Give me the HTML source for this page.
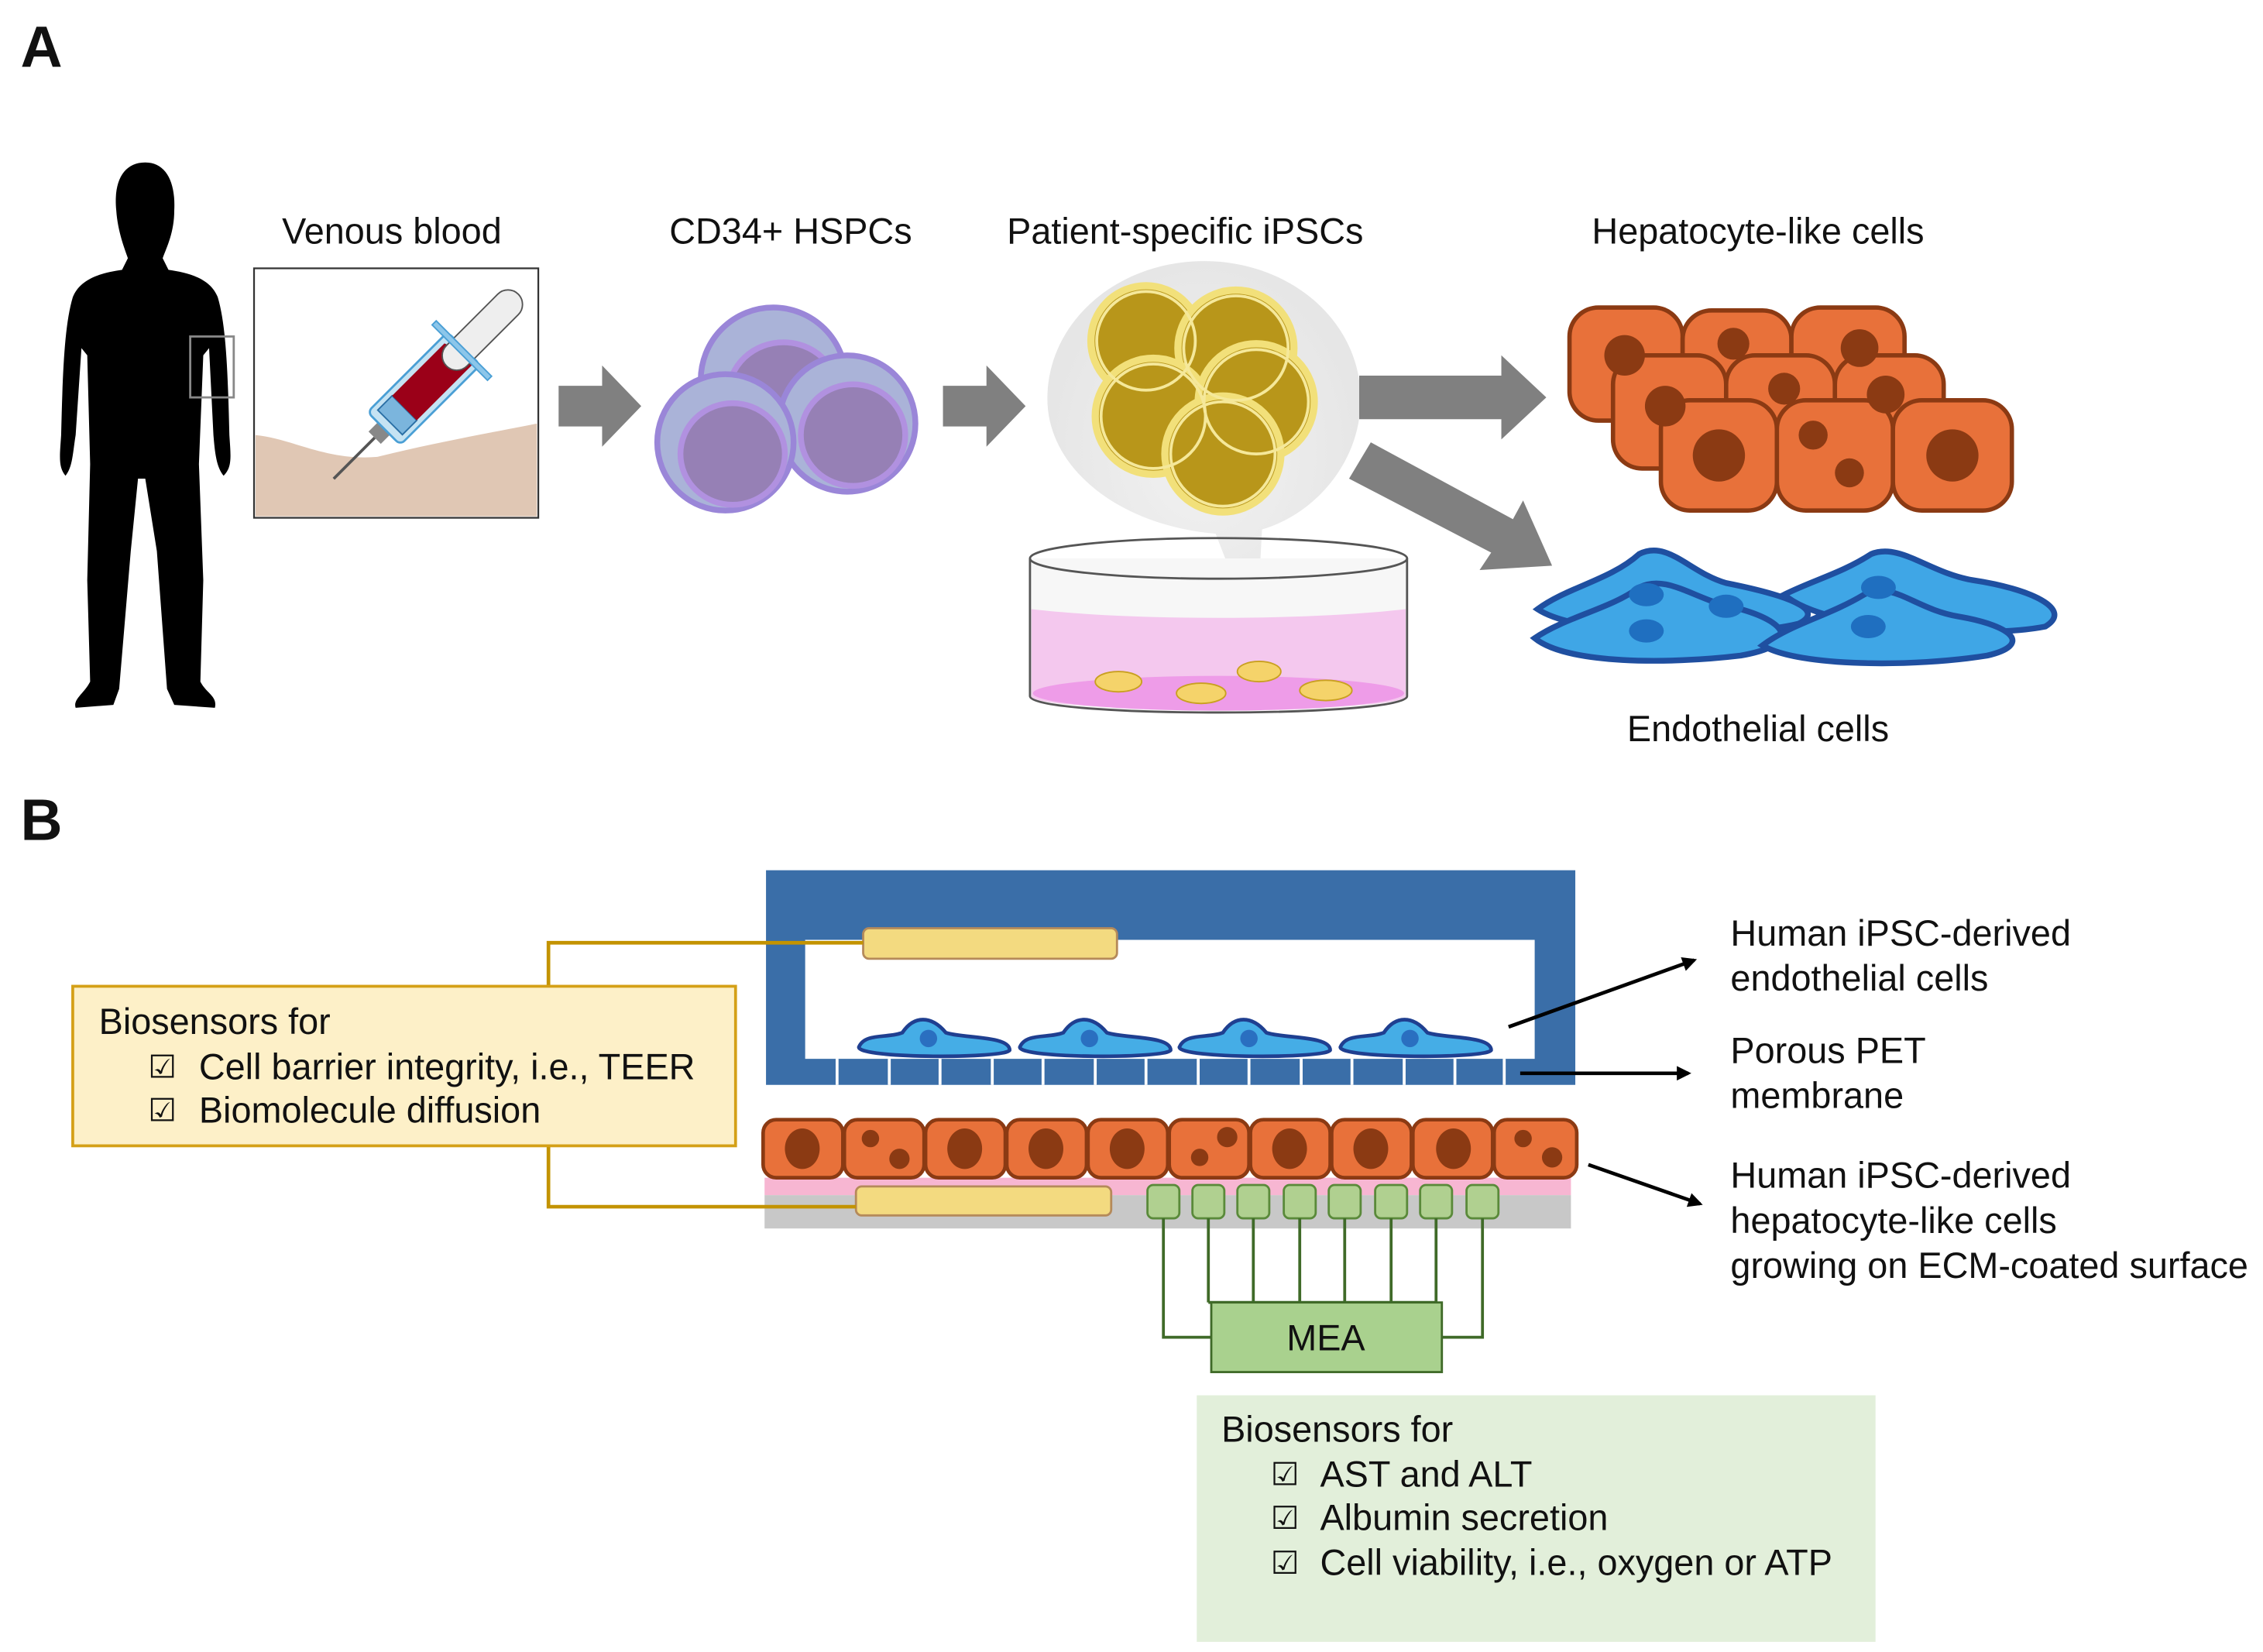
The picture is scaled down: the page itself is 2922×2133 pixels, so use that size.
<!DOCTYPE html>
<html><head><meta charset="utf-8"><style>
html,body{margin:0;padding:0;background:#fff;}
svg{display:block;}
text{font-family:"Liberation Sans",sans-serif;fill:#111;}
</style></head><body>
<svg width="2922" height="2133" viewBox="0 0 1560 1139" xmlns="http://www.w3.org/2000/svg">
<defs>
<marker id="ah" markerWidth="10" markerHeight="10" refX="8" refY="5" orient="auto" markerUnits="userSpaceOnUse"><path d="M0,0 L10,5 L0,10 z" fill="#000"/></marker>
<radialGradient id="bub" cx="50%" cy="50%" r="50%"><stop offset="0" stop-color="#f2f2f2"/><stop offset="1" stop-color="#e6e6e6"/></radialGradient>
</defs>
<text x="14" y="46" font-size="40" font-weight="bold">A</text>
<text x="14" y="579" font-size="40" font-weight="bold">B</text>

<path d="M100,112 C85,112 78,125 80,145 C81,160 86,172 88,178 L84,186 C70,188 55,192 50,205 C44,225 43,260 42,300 C41,315 40,322 45,328 C50,322 50,312 52,300 L56,240 L60,245 L62,320 L60,400 L62,470 C58,478 50,482 52,488 L78,486 L82,475 L90,380 L95,330 L100,330 L108,380 L115,475 L120,486 L148,488 C150,480 142,478 138,470 L140,400 L137,320 L140,245 L144,240 L147,300 C148,312 149,322 154,328 C160,322 159,315 158,300 C157,260 156,225 150,205 C145,192 130,188 116,186 L112,178 C115,170 120,160 120,145 C121,125 114,112 100,112 Z" fill="#000"/>
<rect x="131" y="232" width="30" height="42" fill="none" stroke="#888" stroke-width="1.5"/>

<rect x="175" y="185" width="196" height="172" fill="#fff" stroke="#333" stroke-width="1.2"/>
<path d="M176,300 C200,302 225,318 260,315 C300,305 340,298 370,292 L370,356 L176,356 Z" fill="#e0c7b4"/>
<g transform="translate(290,270) rotate(-45)">
<rect x="-85" y="-1" width="40" height="2" fill="#555"/>
<rect x="-45" y="-6" width="10" height="12" fill="#888"/>
<rect x="-36" y="-16" width="78" height="32" rx="4" fill="#c5e3f3" stroke="#4a9fd5" stroke-width="1.5"/>
<rect x="-30" y="-12" width="14" height="24" fill="#7bb5dd" stroke="#2a6fa5"/>
<path d="M-16,-12 L35,-12 L38,-4 L38,12 L-16,12 Z" fill="#9b0018"/>
<rect x="25" y="-10" width="70" height="20" rx="10" fill="#eee" stroke="#555"/>
<rect x="38" y="-27" width="4" height="54" fill="#8cc6ea" stroke="#4a9fd5"/>
</g>

<path d="M385,266 L415,266 L415,252 L442,280 L415,308 L415,294 L385,294 Z" fill="#808080"/>
<path d="M650,266 L680,266 L680,252 L707,280 L680,308 L680,294 L650,294 Z" fill="#808080"/>

<g stroke="#9a86d8" stroke-width="4">
<circle cx="533" cy="262" r="50" fill="#aab3d8"/>
<ellipse cx="540" cy="272" rx="38" ry="36" fill="#9680b5" stroke="#b191e0" stroke-width="4"/>
<circle cx="584" cy="292" r="47" fill="#aab3d8"/>
<ellipse cx="588" cy="300" rx="36" ry="35" fill="#9680b5" stroke="#b191e0" stroke-width="4"/>
<circle cx="500" cy="305" r="47" fill="#aab3d8"/>
<ellipse cx="505" cy="313" rx="36" ry="35" fill="#9680b5" stroke="#b191e0" stroke-width="4"/>
</g>

<path d="M830,180 C890,180 938,222 938,275 C938,320 905,355 870,365 L866,440 L838,368 C770,362 722,322 722,275 C722,222 770,180 830,180 Z" fill="url(#bub)"/>
<g stroke="#f2e07a" stroke-width="5" fill="#b8961a">
<circle cx="790" cy="235" r="38"/><circle cx="852" cy="240" r="40"/>
<circle cx="795" cy="287" r="40"/><circle cx="866" cy="277" r="40"/>
<circle cx="843" cy="313" r="40"/>
</g>
<g fill="none" stroke="#f5e89a" stroke-width="2"><circle cx="790" cy="235" r="34"/><circle cx="852" cy="240" r="36"/><circle cx="795" cy="287" r="36"/><circle cx="866" cy="277" r="36"/><circle cx="843" cy="313" r="36"/></g>
<path d="M710,385 L710,480 C710,495 970,495 970,480 L970,385" fill="#f7f7f7" stroke="#555" stroke-width="1.5"/>
<path d="M711,420 C780,428 900,428 969,420 L969,480 C969,492 711,492 711,480 Z" fill="#f4c8ee"/>
<ellipse cx="840" cy="478" rx="128" ry="12" fill="#ee9ce8"/>
<ellipse cx="840" cy="385" rx="130" ry="14" fill="none" stroke="#555" stroke-width="1.5"/>
<g fill="#f5d36a" stroke="#c9a020" stroke-width="1"><ellipse cx="771" cy="470" rx="16" ry="7"/><ellipse cx="828" cy="478" rx="17" ry="7"/><ellipse cx="868" cy="463" rx="15" ry="7"/><ellipse cx="914" cy="476" rx="18" ry="7"/></g>

<path d="M937,259 L1035,259 L1035,245 L1066,274 L1035,303 L1035,289 L937,289 Z" fill="#808080"/>
<path d="M945,305 L1043,358 L1050,345 L1070,390 L1020,393 L1028,381 L930,330 Z" fill="#808080"/>

<g stroke="#8b3a13" stroke-width="3" fill="#e8713a">
<rect x="1082" y="212" width="78" height="78" rx="20"/><rect x="1160" y="214" width="75" height="75" rx="20"/><rect x="1235" y="212" width="78" height="78" rx="20"/>
<rect x="1112" y="245" width="78" height="78" rx="20"/><rect x="1190" y="245" width="75" height="78" rx="20"/><rect x="1265" y="245" width="75" height="78" rx="20"/>
<rect x="1145" y="276" width="80" height="76" rx="20"/><rect x="1225" y="276" width="80" height="76" rx="20"/><rect x="1305" y="276" width="82" height="76" rx="20"/>
</g>
<g fill="#8b3a13"><circle cx="1120" cy="245" r="14"/><circle cx="1195" cy="237" r="11"/><circle cx="1282" cy="240" r="13"/><circle cx="1148" cy="280" r="14"/><circle cx="1230" cy="268" r="11"/><circle cx="1300" cy="272" r="13"/><circle cx="1185" cy="314" r="18"/><circle cx="1250" cy="300" r="10"/><circle cx="1275" cy="326" r="10"/><circle cx="1346" cy="314" r="18"/></g>

<g fill="#3fa6e6" stroke="#1f4fa0" stroke-width="4">
<path d="M1060,420 C1080,405 1110,400 1130,382 C1150,372 1165,395 1190,402 C1230,410 1260,420 1240,430 C1200,440 1090,440 1060,420 Z"/>
<path d="M1058,440 C1080,425 1110,420 1130,405 C1150,395 1170,415 1200,420 C1235,430 1240,445 1200,452 C1150,458 1080,458 1058,440 Z"/>
<path d="M1230,410 C1250,400 1270,395 1290,382 C1310,374 1330,395 1360,400 C1400,406 1430,420 1410,432 C1370,440 1260,436 1230,410 Z"/>
<path d="M1215,445 C1235,430 1260,425 1285,410 C1305,400 1320,420 1350,425 C1390,432 1400,445 1370,452 C1320,460 1240,460 1215,445 Z"/>
</g>
<g fill="#1f6fc0"><ellipse cx="1135" cy="410" rx="12" ry="8"/><ellipse cx="1190" cy="418" rx="12" ry="8"/><ellipse cx="1295" cy="405" rx="12" ry="8"/><ellipse cx="1135" cy="435" rx="12" ry="8"/><ellipse cx="1288" cy="432" rx="12" ry="8"/></g>

<g font-size="25" text-anchor="middle">
<text x="270" y="168">Venous blood</text>
<text x="545" y="168">CD34+ HSPCs</text>
<text x="817" y="168">Patient-specific iPSCs</text>
<text x="1212" y="168">Hepatocyte-like cells</text>
<text x="1212" y="511">Endothelial cells</text>
</g>

<path d="M528,600 L1086,600 L1086,748 L528,748 Z M555,648 L555,730 L1058,730 L1058,648 Z" fill="#3a6ea8" fill-rule="evenodd"/>
<g fill="#fff">
<rect x="576" y="730" width="2" height="18"/><rect x="612" y="730" width="2" height="18"/><rect x="647" y="730" width="2" height="18"/><rect x="683" y="730" width="2" height="18"/><rect x="718" y="730" width="2" height="18"/><rect x="754" y="730" width="2" height="18"/><rect x="789" y="730" width="2" height="18"/><rect x="825" y="730" width="2" height="18"/><rect x="860" y="730" width="2" height="18"/><rect x="896" y="730" width="2" height="18"/><rect x="931" y="730" width="2" height="18"/><rect x="967" y="730" width="2" height="18"/><rect x="1002" y="730" width="2" height="18"/><rect x="1036" y="730" width="2" height="18"/>
</g>
<g fill="#45ade6" stroke="#1f3f90" stroke-width="2.5">
<path d="M592,722 C596,712 612,716 622,712 C630,700 642,700 652,712 C664,716 696,714 696,724 C694,730 592,730 592,722 Z"/>
<path d="M703,722 C707,712 723,716 733,712 C741,700 753,700 763,712 C775,716 807,714 807,724 C805,730 703,730 703,722 Z"/>
<path d="M813,722 C817,712 833,716 843,712 C851,700 863,700 873,712 C885,716 917,714 917,724 C915,730 813,730 813,722 Z"/>
<path d="M924,722 C928,712 944,716 954,712 C962,700 974,700 984,712 C996,716 1028,714 1028,724 C1026,730 924,730 924,722 Z"/>
</g>
<g fill="#2a6fc0"><circle cx="640" cy="716" r="6"/><circle cx="751" cy="716" r="6"/><circle cx="861" cy="716" r="6"/><circle cx="972" cy="716" r="6"/></g>
<rect x="595" y="640" width="175" height="21" rx="4" fill="#f3da80" stroke="#b58a5a" stroke-width="1.5"/>

<rect x="527" y="812" width="556" height="12" fill="#f7b6d2"/>
<rect x="527" y="824" width="556" height="23" fill="#c8c8c8"/>
<g stroke="#8b3a13" stroke-width="2.5" fill="#e8713a">
<rect x="526" y="772" width="55" height="40" rx="9"/><rect x="582" y="772" width="55" height="40" rx="9"/><rect x="638" y="772" width="55" height="40" rx="9"/><rect x="694" y="772" width="55" height="40" rx="9"/><rect x="750" y="772" width="55" height="40" rx="9"/><rect x="806" y="772" width="55" height="40" rx="9"/><rect x="862" y="772" width="55" height="40" rx="9"/><rect x="918" y="772" width="55" height="40" rx="9"/><rect x="974" y="772" width="55" height="40" rx="9"/><rect x="1030" y="772" width="57" height="40" rx="9"/>
</g>
<g fill="#8b3a13">
<ellipse cx="553" cy="792" rx="12" ry="14"/><circle cx="600" cy="785" r="6"/><circle cx="620" cy="799" r="7"/><ellipse cx="665" cy="792" rx="12" ry="14"/><ellipse cx="721" cy="792" rx="12" ry="14"/><ellipse cx="777" cy="792" rx="12" ry="14"/><circle cx="827" cy="798" r="6"/><circle cx="846" cy="784" r="7"/><ellipse cx="889" cy="792" rx="12" ry="14"/><ellipse cx="945" cy="792" rx="12" ry="14"/><ellipse cx="1002" cy="792" rx="12" ry="14"/><circle cx="1050" cy="785" r="6"/><circle cx="1070" cy="798" r="7"/>
</g>
<rect x="590" y="818" width="176" height="20" rx="4" fill="#f3da80" stroke="#b58a5a" stroke-width="1.5"/>
<g fill="#b0d090" stroke="#5a8a3a" stroke-width="1.5">
<rect x="791" y="817" width="22" height="23" rx="4"/><rect x="822" y="817" width="22" height="23" rx="4"/><rect x="853" y="817" width="22" height="23" rx="4"/><rect x="885" y="817" width="22" height="23" rx="4"/><rect x="916" y="817" width="22" height="23" rx="4"/><rect x="948" y="817" width="22" height="23" rx="4"/><rect x="979" y="817" width="22" height="23" rx="4"/><rect x="1011" y="817" width="22" height="23" rx="4"/>
</g>
<g stroke="#3f6a28" stroke-width="2" fill="none">
<path d="M802,840 L802,922 L835,922"/><path d="M1022,840 L1022,922 L994,922"/>
<path d="M833,840 L833,898 M864,840 L864,898 M896,840 L896,898 M927,840 L927,898 M959,840 L959,898 M990,840 L990,898 M833,898 L990,898"/>
</g>
<rect x="835" y="898" width="159" height="48" fill="#a9d18e" stroke="#3f6a28" stroke-width="1.5"/>
<text x="914" y="931" font-size="25" text-anchor="middle">MEA</text>

<path d="M595,650 L378,650 L378,680 M378,790 L378,832 L590,832" fill="none" stroke="#c39300" stroke-width="2.5"/>
<rect x="50" y="680" width="457" height="110" fill="#fdf0c8" stroke="#d4a017" stroke-width="2"/>
<g font-size="25">
<text x="68" y="713">Biosensors for</text>
<text x="102" y="743" font-size="22">☑</text><text x="137" y="744">Cell barrier integrity, i.e., TEER</text>
<text x="102" y="773" font-size="22">☑</text><text x="137" y="774">Biomolecule diffusion</text>
</g>

<rect x="825" y="962" width="468" height="170" fill="#e2efda"/>
<g font-size="25">
<text x="842" y="994">Biosensors for</text>
<text x="876" y="1024" font-size="22">☑</text><text x="910" y="1025">AST and ALT</text>
<text x="876" y="1054" font-size="22">☑</text><text x="910" y="1055">Albumin secretion</text>
<text x="876" y="1085" font-size="22">☑</text><text x="910" y="1086">Cell viability, i.e., oxygen or ATP</text>
</g>

<g stroke="#000" stroke-width="2.5" fill="none" marker-end="url(#ah)">
<path d="M1040,708 L1168,662"/>
<path d="M1048,740 L1164,740"/>
<path d="M1095,803 L1172,830"/>
</g>
<g font-size="25">
<text x="1193" y="652">Human iPSC-derived</text>
<text x="1193" y="683">endothelial cells</text>
<text x="1193" y="733">Porous PET</text>
<text x="1193" y="764">membrane</text>
<text x="1193" y="819">Human iPSC-derived</text>
<text x="1193" y="850">hepatocyte-like cells</text>
<text x="1193" y="881">growing on ECM-coated surface</text>
</g>
</svg>
</body></html>
